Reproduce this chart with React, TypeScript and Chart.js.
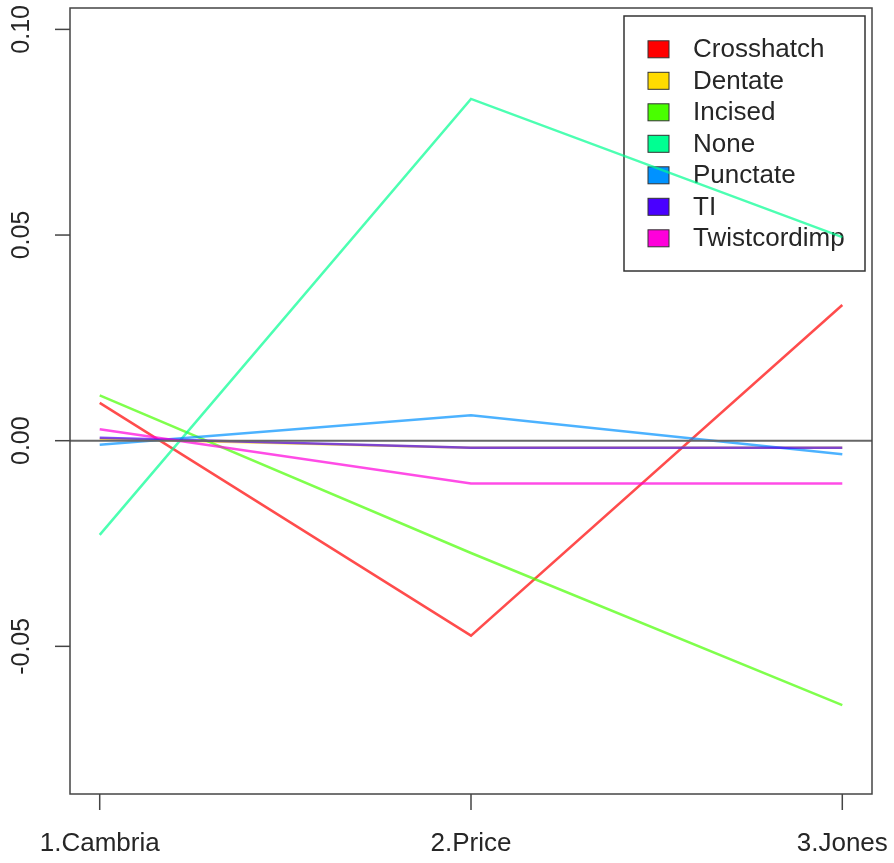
import React, { useEffect, useRef } from "react";
import { Chart, registerables } from "chart.js";

Chart.register(...registerables);

const categories = ["1.Cambria", "2.Price", "3.Jones"];
const seriesNames = ["Crosshatch", "Dentate", "Incised", "None", "Punctate", "TI", "Twistcordimp"];
const crosshatch = [0.0092, -0.0474, 0.033];
const dentate = [0.0005, -0.0017, -0.0017];
const incised = [0.011, -0.0273, -0.0643];
const none = [-0.0229, 0.0831, 0.0495];
const punctate = [-0.001, 0.0062, -0.0033];
const ti = [0.0007, -0.0017, -0.0017];
const twistcordimp = [0.0028, -0.0104, -0.0104];
const seriesValues = [crosshatch, dentate, incised, none, punctate, ti, twistcordimp];
const fullColors = ["#FF0000", "#FFDB00", "#49FF00", "#00FF92", "#0092FF", "#4900FF", "#FF00DB"];
const lineColors = [
  "rgba(255,0,0,0.7)",
  "rgba(255,219,0,0.7)",
  "rgba(73,255,0,0.7)",
  "rgba(0,255,146,0.7)",
  "rgba(0,146,255,0.7)",
  "rgba(73,0,255,0.7)",
  "rgba(255,0,219,0.7)",
];
const yTicks = [-0.05, 0, 0.05, 0.1];
const yTickLabels = ["-0.05", "0.00", "0.05", "0.10"];

const FONT = '26px "Liberation Sans", Arial, sans-serif';
const YFONT = '25px "Liberation Sans", Arial, sans-serif';

export default function App() {
  const ref = useRef<HTMLCanvasElement>(null);

  useEffect(() => {
    const canvas = ref.current;
    if (!canvas) return;

    const rPlugin = {
      id: "rAxes",
      beforeDatasetsDraw(chart: any) {
        const { ctx, chartArea: a } = chart;
        ctx.save();
        const lw = 241;
        const lh = 255;
        const lx = a.right - 248;
        const ly = a.top + 8;
        ctx.strokeStyle = "#333333";
        ctx.lineWidth = 1.5;
        ctx.strokeRect(lx, ly, lw, lh);
        ctx.font = FONT;
        seriesNames.forEach((name, i) => {
          const cy = ly + 33.3 + i * 31.5;
          ctx.fillStyle = fullColors[i];
          ctx.fillRect(lx + 24, cy - 8.5, 21, 17);
          ctx.strokeStyle = "#333333";
          ctx.lineWidth = 1;
          ctx.strokeRect(lx + 24, cy - 8.5, 21, 17);
          ctx.fillStyle = "#262626";
          ctx.textAlign = "left";
          ctx.textBaseline = "middle";
          ctx.fillText(name, lx + 69, cy + 1);
        });
        ctx.restore();
      },
      afterDatasetsDraw(chart: any) {
        const { ctx, chartArea: a, scales } = chart;
        const x = scales.x;
        const y = scales.y;
        ctx.save();
        const y0 = y.getPixelForValue(0);
        ctx.strokeStyle = "#666666";
        ctx.lineWidth = 2;
        ctx.beginPath();
        ctx.moveTo(a.left, y0);
        ctx.lineTo(a.right, y0);
        ctx.stroke();
        ctx.strokeStyle = "#444444";
        ctx.lineWidth = 1.5;
        ctx.strokeRect(a.left, a.top, a.right - a.left, a.bottom - a.top);
        ctx.fillStyle = "#262626";
        ctx.font = YFONT;
        yTicks.forEach((v, i) => {
          const py = y.getPixelForValue(v);
          ctx.beginPath();
          ctx.moveTo(a.left - 15, py);
          ctx.lineTo(a.left, py);
          ctx.stroke();
          ctx.save();
          ctx.translate(22, py);
          ctx.rotate(-Math.PI / 2);
          ctx.textAlign = "center";
          ctx.textBaseline = "middle";
          ctx.fillText(yTickLabels[i], 0, 0);
          ctx.restore();
        });
        ctx.font = FONT;
        categories.forEach((c, i) => {
          const px = x.getPixelForValue(i + 1);
          ctx.beginPath();
          ctx.moveTo(px, a.bottom);
          ctx.lineTo(px, a.bottom + 16);
          ctx.stroke();
          ctx.textAlign = "center";
          ctx.textBaseline = "middle";
          ctx.fillText(c, px, a.bottom + 50);
        });
        ctx.restore();
      },
    };

    const chart = new Chart(canvas, {
      type: "line",
      data: {
        datasets: seriesNames.map((name, i) => ({
          label: name,
          data: seriesValues[i].map((v, j) => ({ x: j + 1, y: v })),
          borderColor: lineColors[i],
          backgroundColor: lineColors[i],
          borderWidth: 2.5,
          pointRadius: 0,
          tension: 0,
          fill: false,
          order: -i,
        })),
      },
      options: {
        responsive: false,
        animation: false,
        layout: { padding: { left: 70, top: 8, right: 22, bottom: 69 } },
        plugins: { legend: { display: false }, tooltip: { enabled: false } },
        scales: {
          x: { type: "linear", min: 0.92, max: 3.08, display: false },
          y: { type: "linear", min: -0.0859, max: 0.1052, display: false },
        },
      },
      plugins: [rPlugin],
    });
    return () => chart.destroy();
  }, []);

  return (
    <div style={{ position: "fixed", left: 0, top: 0, width: 894, height: 863, background: "#fff" }}>
      <canvas ref={ref} width={894} height={863} />
    </div>
  );
}
